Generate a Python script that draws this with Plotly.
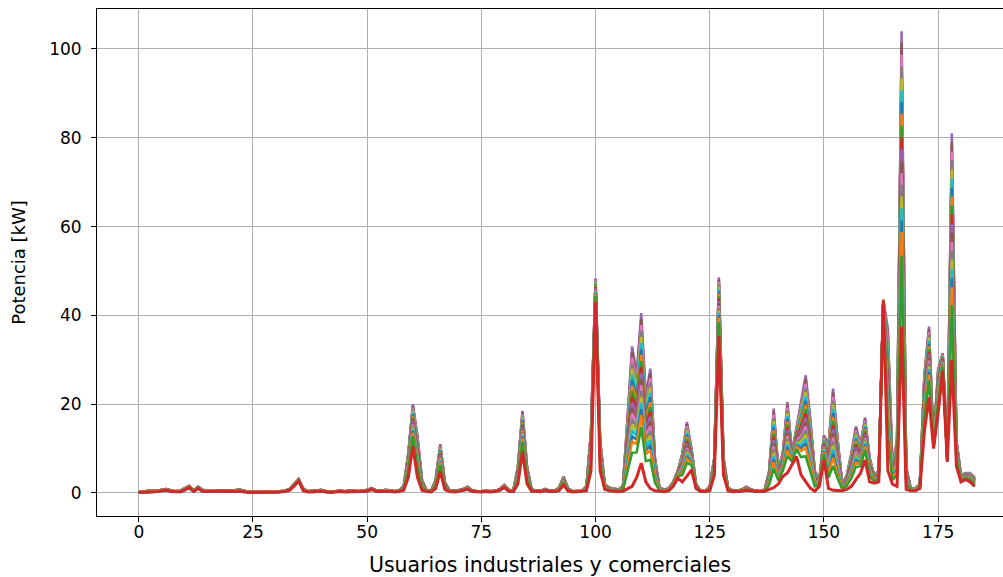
import plotly.graph_objects as go

# Usuarios (eje x): 184 usuarios industriales y comerciales
usuarios = list(range(184))

# Envolvente superior (máximo horario) [kW]
potencia_max = [
    0.2, 0.3, 0.4, 0.6, 0.5, 0.7, 0.9, 0.6, 0.4, 0.5,
    1.1, 1.6, 0.6, 1.4, 0.7, 0.6, 0.5, 0.6, 0.5, 0.6,
    0.5, 0.6, 0.8, 0.5, 0.3, 0.3, 0.3, 0.4, 0.3, 0.2,
    0.3, 0.4, 0.5, 0.9, 2.0, 3.1, 1.0, 0.4, 0.5, 0.6,
    0.7, 0.4, 0.3, 0.4, 0.5, 0.4, 0.5, 0.6, 0.4, 0.5,
    0.7, 1.1, 0.6, 0.5, 0.7, 0.6, 0.4, 0.6, 1.5, 9.0,
    20.0, 13.0, 3.0, 0.6, 0.5, 3.0, 11.0, 2.5, 0.6, 0.5,
    0.6, 0.9, 1.4, 0.6, 0.4, 0.4, 0.5, 0.4, 0.5, 0.8,
    1.8, 0.7, 0.5, 6.0, 18.5, 6.0, 0.8, 0.5, 0.5, 0.9,
    0.5, 0.5, 1.2, 3.7, 1.0, 0.4, 0.4, 0.5, 1.5, 14.0,
    48.3, 12.0, 2.0, 1.2, 1.0, 0.8, 1.5, 18.0, 33.0, 27.0,
    40.5, 22.0, 28.0, 8.0, 1.2, 0.8, 1.0, 2.5, 5.0, 9.0,
    16.0, 10.0, 2.0, 0.5, 0.4, 1.5, 8.0, 48.6, 8.0, 1.2,
    0.6, 0.5, 0.8, 1.4, 0.8, 0.5, 0.4, 0.6, 5.0, 19.0,
    5.5, 9.0, 20.5, 9.0, 15.0, 21.0, 26.5, 17.0, 5.0, 3.0,
    13.0, 11.0, 23.5, 12.0, 2.0, 4.0, 9.0, 15.0, 11.0, 17.0,
    8.0, 4.0, 5.0, 43.5, 37.0, 6.0, 12.0, 104.0, 6.0, 1.0,
    1.0, 2.0, 27.0, 37.5, 11.0, 28.0, 31.5, 8.0, 81.0, 12.0,
    4.0, 4.5, 4.5, 3.5,
]

# Última hora (curva roja, dibujada al final) [kW]
potencia_hora23 = [
    0.1, 0.1, 0.2, 0.2, 0.3, 0.4, 0.6, 0.3, 0.2, 0.2,
    0.6, 1.2, 0.3, 1.0, 0.3, 0.3, 0.2, 0.3, 0.3, 0.2,
    0.3, 0.3, 0.4, 0.2, 0.1, 0.1, 0.1, 0.2, 0.1, 0.1,
    0.1, 0.2, 0.3, 0.6, 1.5, 2.7, 0.5, 0.2, 0.2, 0.3,
    0.4, 0.2, 0.1, 0.2, 0.3, 0.2, 0.2, 0.3, 0.2, 0.3,
    0.4, 0.8, 0.3, 0.3, 0.4, 0.3, 0.2, 0.3, 0.6, 3.5,
    10.5, 3.5, 0.6, 0.3, 0.2, 1.0, 4.8, 0.8, 0.3, 0.2,
    0.3, 0.5, 0.8, 0.3, 0.2, 0.2, 0.3, 0.2, 0.3, 0.6,
    1.2, 0.4, 0.3, 2.0, 9.3, 2.0, 0.4, 0.3, 0.3, 0.5,
    0.3, 0.3, 0.5, 1.8, 0.4, 0.2, 0.2, 0.3, 0.5, 5.0,
    43.0, 5.0, 0.8, 0.5, 0.4, 0.3, 0.4, 1.0, 1.5, 3.5,
    6.7, 2.5, 1.0, 0.5, 0.4, 0.3, 0.5, 1.5, 3.3, 2.5,
    3.8, 5.2, 1.0, 0.3, 0.3, 0.5, 4.0, 35.2, 4.0, 0.5,
    0.3, 0.3, 0.4, 0.6, 0.4, 0.3, 0.3, 0.3, 0.8, 1.2,
    2.0, 3.7, 4.5, 6.5, 8.2, 4.0, 2.5, 1.1, 0.4, 1.5,
    7.4, 1.0, 0.6, 0.5, 0.5, 0.8, 1.5, 3.0, 4.4, 7.4,
    2.5, 2.2, 2.5, 43.3, 5.0, 2.0, 1.5, 37.5, 0.8, 0.5,
    0.5, 1.0, 14.0, 21.5, 10.0, 18.0, 27.5, 7.0, 30.0, 6.0,
    2.5, 3.0, 2.5, 1.5,
]

# Peso relativo de cada hora (0..23) entre la curva roja y la envolvente
perfil_horario = [
    0.62, 0.70, 0.80, 0.92, 1.00, 0.96, 0.92, 0.88, 0.84, 0.80,
    0.76, 0.72, 0.68, 0.64, 0.60, 0.56, 0.52, 0.48, 0.44, 0.40,
    0.36, 0.32, 0.24, 0.00,
]

colores = ['#1f77b4', '#ff7f0e', '#2ca02c', '#d62728', '#9467bd',
           '#8c564b', '#e377c2', '#7f7f7f', '#bcbd22', '#17becf']

fig = go.Figure()
for h, w in enumerate(perfil_horario):
    y = [r + (m - r) * w for m, r in zip(potencia_max, potencia_hora23)]
    fig.add_trace(go.Scatter(
        x=usuarios, y=y, mode='lines',
        line=dict(color=colores[h % 10], width=2.5 if h < 23 else 3),
        showlegend=False, hoverinfo='skip'))

fig.update_layout(
    width=1003, height=577,
    margin=dict(l=97, r=0, t=9, b=61),
    paper_bgcolor='white', plot_bgcolor='white',
    font=dict(family='DejaVu Sans', color='black', size=17),
)
fig.update_xaxes(
    range=[-9.15, 189.2], tickvals=[0, 25, 50, 75, 100, 125, 150, 175],
    showgrid=True, gridcolor='#b0b0b0', gridwidth=1,
    showline=True, linecolor='black', linewidth=1, mirror=True,
    ticks='outside', ticklen=5, tickcolor='black', zeroline=False,
    tickfont=dict(size=17), ticklabelstandoff=-4,
    title=dict(text='Usuarios industriales y comerciales', font=dict(size=20.5), standoff=16),
)
fig.update_yaxes(
    range=[-5.19, 109.0], tickvals=[0, 20, 40, 60, 80, 100],
    showgrid=True, gridcolor='#b0b0b0', gridwidth=1,
    showline=True, linecolor='black', linewidth=1, mirror=False,
    ticks='outside', ticklen=5, tickcolor='black', zeroline=False,
    tickfont=dict(size=17), ticklabelstandoff=6,
    title=dict(text='Potencia [kW]', font=dict(size=18), standoff=18),
)

fig.write_html(
    'out.html',
    config={'displayModeBar': False},
    post_script="document.body.style.margin='0';document.body.style.overflow='hidden';",
)
